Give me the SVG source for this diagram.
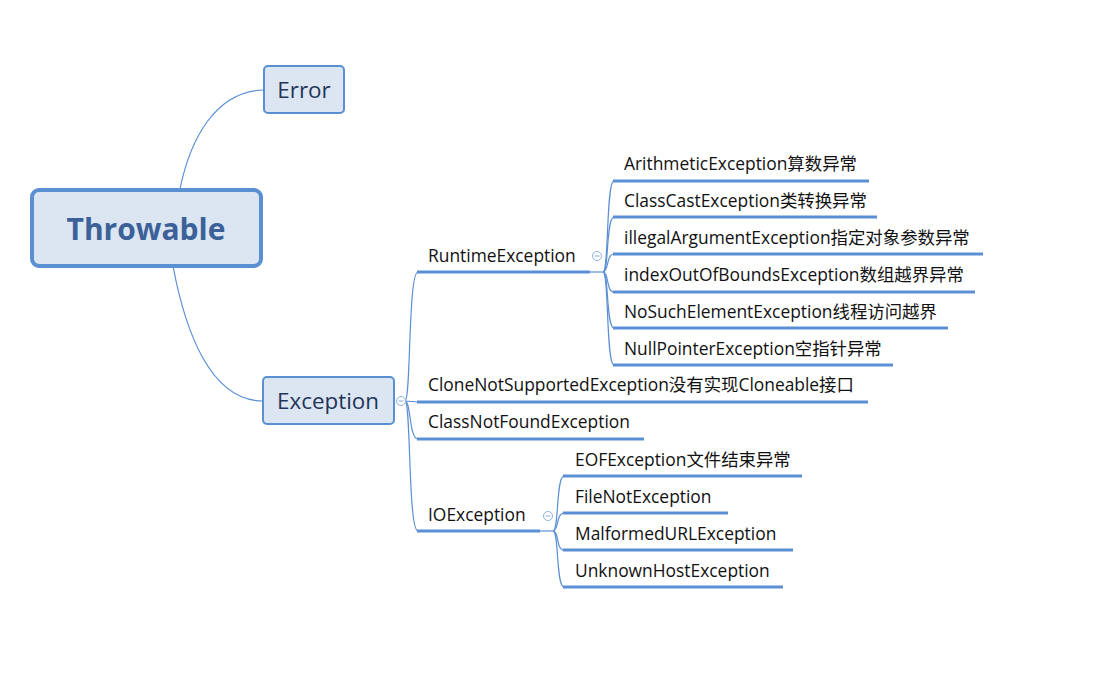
<svg xmlns="http://www.w3.org/2000/svg" width="1105" height="677" viewBox="0 0 1105 677">
<style>
.box{fill:#dce6f2;stroke:#5a8fd2;stroke-width:2}
.root{fill:#dce6f2;stroke:#5a8fd2;stroke-width:4}
.con{fill:none;stroke:#5b8fd4;stroke-width:1.2}
.ul{fill:none;stroke:#5b8fd4;stroke-width:3}
.tog{fill:#fff;stroke:#8fb0dc;stroke-width:1}
.t{font-family:"Open Sans","Noto Sans CJK SC",sans-serif;font-size:17.4px;fill:#111}
.mt{font-family:"Open Sans","Noto Sans CJK SC",sans-serif;font-size:22.4px;fill:#1f3558;text-anchor:middle}
.rt{font-family:"Open Sans","Noto Sans CJK SC",sans-serif;font-size:30px;font-weight:bold;fill:#3b6198;text-anchor:middle}
</style>
<rect width="1105" height="677" fill="#fff"/>
<g id="connectors">
<path class="con" d="M180 189 C190 140 215 91 264 90"/>
<path class="con" d="M173 266 C185 330 210 401 263 401"/>
<path class="con" d="M405 401 C411 401 408 272 418 272"/>
<path class="con" d="M405 401 L418 402"/>
<path class="con" d="M405 401 C411 401 409 439 418 439"/>
<path class="con" d="M405 401 C411 401 408 531 418 531"/>
<path class="con" d="M590 272 L603 272"/>
<path class="con" d="M603 272 C609 272 606 181 614 181"/>
<path class="con" d="M603 272 C609 272 606 217 614 217"/>
<path class="con" d="M603 272 C609 272 606 254 614 254"/>
<path class="con" d="M603 272 C609 272 606 292 614 292"/>
<path class="con" d="M603 272 C609 272 606 328 614 328"/>
<path class="con" d="M603 272 C609 272 606 365 614 365"/>
<path class="con" d="M540 531 L553 531"/>
<path class="con" d="M553 531 C559 531 556 476 564 476"/>
<path class="con" d="M553 531 C559 531 556 513 564 513"/>
<path class="con" d="M553 531 C559 531 556 550 564 550"/>
<path class="con" d="M553 531 C559 531 556 587 564 587"/>
<circle class="tog" cx="401" cy="401" r="4.5"/>
<line x1="398.5" y1="401" x2="403.5" y2="401" stroke="#8fb0dc" stroke-width="1"/>
<circle class="tog" cx="597" cy="256" r="4.5"/>
<line x1="594.5" y1="256" x2="599.5" y2="256" stroke="#8fb0dc" stroke-width="1"/>
<circle class="tog" cx="548" cy="516" r="4.5"/>
<line x1="545.5" y1="516" x2="550.5" y2="516" stroke="#8fb0dc" stroke-width="1"/>
</g>
<g id="throwable"><rect class="root" x="32" y="190" width="229" height="76" rx="7"/><text class="rt" x="146" y="240">Throwable</text></g>
<g id="error"><rect class="box" x="264" y="66" width="80" height="47" rx="4"/><text class="mt" x="304" y="98">Error</text></g>
<g id="exception"><rect class="box" x="263" y="377" width="131" height="47" rx="4"/><text class="mt" x="328" y="409">Exception</text></g>
<g id="runtime"><text class="t" x="428" y="262">RuntimeException</text><line class="ul" x1="417" y1="272" x2="590" y2="272"/></g>
<g id="arith"><text class="t" x="624" y="170">ArithmeticException算数异常</text><line class="ul" x1="613" y1="181" x2="869" y2="181"/></g>
<g id="classcast"><text class="t" x="624" y="207">ClassCastException类转换异常</text><line class="ul" x1="613" y1="217" x2="877" y2="217"/></g>
<g id="illegal"><text class="t" x="624" y="244">illegalArgumentException指定对象参数异常</text><line class="ul" x1="613" y1="254" x2="983" y2="254"/></g>
<g id="index"><text class="t" x="624" y="281">indexOutOfBoundsException数组越界异常</text><line class="ul" x1="613" y1="292" x2="975" y2="292"/></g>
<g id="nosuch"><text class="t" x="624" y="318">NoSuchElementException线程访问越界</text><line class="ul" x1="613" y1="328" x2="948" y2="328"/></g>
<g id="nullptr"><text class="t" x="624" y="355">NullPointerException空指针异常</text><line class="ul" x1="613" y1="365" x2="893" y2="365"/></g>
<g id="clone"><text class="t" x="428" y="391">CloneNotSupportedException没有实现Cloneable接口</text><line class="ul" x1="417" y1="402" x2="868" y2="402"/></g>
<g id="classnotfound"><text class="t" x="428" y="428">ClassNotFoundException</text><line class="ul" x1="417" y1="439" x2="644" y2="439"/></g>
<g id="ioexception"><text class="t" x="428" y="521">IOException</text><line class="ul" x1="417" y1="531" x2="540" y2="531"/></g>
<g id="eof"><text class="t" x="575" y="466">EOFException文件结束异常</text><line class="ul" x1="563" y1="476" x2="802" y2="476"/></g>
<g id="filenot"><text class="t" x="575" y="503">FileNotException</text><line class="ul" x1="563" y1="513" x2="728" y2="513"/></g>
<g id="malformed"><text class="t" x="575" y="540">MalformedURLException</text><line class="ul" x1="563" y1="550" x2="793" y2="550"/></g>
<g id="unknown"><text class="t" x="575" y="577">UnknownHostException</text><line class="ul" x1="563" y1="587" x2="783" y2="587"/></g>
</svg>
